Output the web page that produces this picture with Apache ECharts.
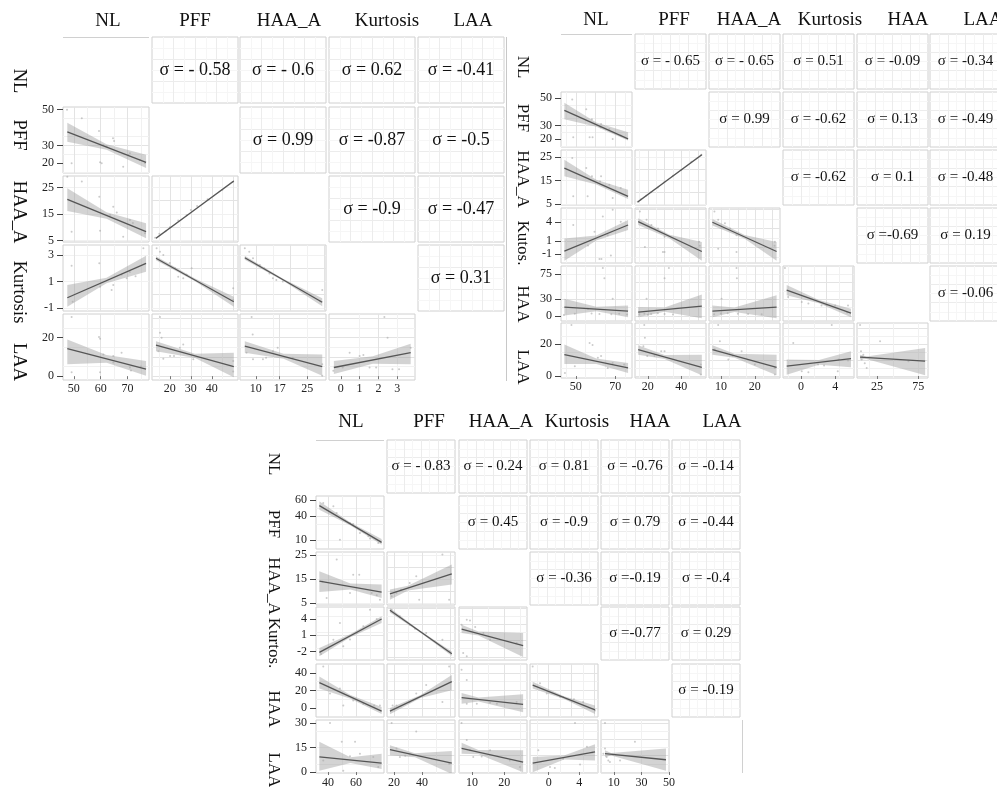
<!DOCTYPE html>
<html><head><meta charset="utf-8">
<script src="https://cdn.jsdelivr.net/npm/echarts@6/dist/echarts.min.js"></script>
<style>html,body{margin:0;padding:0;background:#fff}#c{width:997px;height:787px}</style>
</head><body><div id="c"></div>
<script>
// ---------------- DATA: matrix 1 (top-left) ----------------
const m1Vars = ['NL','PFF','HAA_A','Kurtosis','LAA'];
const m1RowNames = ['NL','PFF','HAA_A','Kurtosis','LAA'];
const m1XRange = [[46,78],[11.5,52.5],[5.4,30.5],[-0.63,3.95],null];
const m1YRange = [null,[14.5,51.5],[4.4,29.3],[-1.23,3.75],[-2,32.3]];
const m1XTicks = [[50,60,70],[20,30,40],[10,17,25],[0,1,2,3],null];
const m1YTicks = [null,[20,30,50],[5,15,25],[-1,1,3],[0,20]];
const m1Sigma = [[0,1,'σ = - 0.58'],[0,2,'σ = - 0.6'],[0,3,'σ = 0.62'],[0,4,'σ = -0.41'],
  [1,2,'σ = 0.99'],[1,3,'σ = -0.87'],[1,4,'σ = -0.5'],[2,3,'σ = -0.9'],[2,4,'σ = -0.47'],[3,4,'σ = 0.31']];
const m1Cells = [[1,0],[2,0],[2,1],[3,0],[3,1],[3,2],[4,0],[4,1],[4,2],[4,3]];
const m1Lines = [[47.6,37.5,76.9,20.5],[47.6,20.5,76.9,8.3],[13.4,5.8,50.5,27.4],[47.6,-0.23,76.9,2.37],
  [13.4,2.75,50.5,-0.53],[6.8,2.79,29.4,-0.57],[47.6,14.3,76.9,3.6],[13.4,16.1,50.5,5.0],[6.8,15.6,29.4,5.0],[-0.37,4.5,3.72,12.2]];
const m1Bands = [
  [[47.6,32.0,42.7],[62.2,27.6,30.6],[76.9,17.3,24.7]],
  [[47.6,16.1,24.7],[62.2,13.2,15.6],[76.9,5.8,11.5]],
  [[13.4,5.4,6.2],[32,16.4,16.8],[50.5,27.0,27.8]],
  [[47.6,-0.91,0.73],[62.2,0.87,1.27],[76.9,1.74,2.94]],
  [[13.4,2.6,2.9],[32,1.02,1.22],[50.5,-0.91,-0.15]],
  [[6.8,2.64,2.94],[18.1,1.03,1.19],[29.4,-0.87,-0.27]],
  [[47.6,6.2,19.0],[62.2,7.0,11.0],[76.9,0.2,7.9]],
  [[13.4,13.0,18.2],[32,9.4,11.7],[50.5,-0.6,12.2]],
  [[6.8,12.2,18.2],[18.1,9.0,11.6],[29.4,0.2,11.3]],
  [[-0.37,1.1,7.9],[1.7,6.4,10.3],[3.72,6.2,16.8]]];
const m1Points = [
  [[47.5,49.9],[53,45.2],[59.4,38.1],[64.6,34],[65,32.5],[61,30.2],[62.2,29.3],[70.9,25.6],[70.3,24.6],[49.2,20],[59.8,20.5],[60.4,20],[68.4,18],[74.6,21.8],[76.5,20.1]],
  [[47.6,29],[53,27.2],[59.5,21.5],[64.7,17.7],[63.5,14.6],[70.9,12.7],[49.2,8.3],[59.8,8.6],[68.4,6.4],[76.5,7.7],[66,15.5],[72,11.6]],
  [[13,6],[15,7.5],[18,8.5],[20,10],[24,12.5],[28,14.5],[30,16.5],[33,18],[38,20.5],[45,24],[50,27]],
  [[49.2,2.19],[59.5,2.37],[64.7,0.73],[64.1,0.36],[70.9,1.71],[75.9,3.5],[49.6,-0.53],[59.8,0.6],[67.8,1.5],[69.7,1.24],[73,1.4]],
  [[13.7,3.5],[15.3,3.25],[16.9,3.0],[22.5,2.0],[24,1.36],[26.4,1.24],[28,1.5],[30.4,2.0],[50.2,0.48],[50.2,-0.4],[20,2.4]],
  [[6.8,3.5],[8.1,3.25],[9.2,2.75],[11.2,2.24],[14,1.6],[15,1.24],[16,1.1],[17.9,1.0],[29.4,0.35],[28.8,-0.5],[12.5,2.0]],
  [[49.2,30.7],[59.4,20.4],[59.8,19.4],[61,11.3],[64.7,10.5],[64.7,7.1],[67.8,12.2],[70.9,4.5],[71.3,3],[49.2,2],[59.8,2],[75,5]],
  [[15.3,30.7],[15.3,22.5],[16.1,20],[14.5,13],[20.1,10.5],[24.8,14.8],[26.4,16.5],[31.2,8.8],[50.2,7.9],[50.2,2.4],[16.9,9],[22,10.5]],
  [[8.8,30.7],[9.1,21.6],[7.3,12.2],[9.2,8.8],[12.1,8.8],[15,13],[16.4,14.8],[20.8,9.6],[29.4,6.2],[29.4,0.2],[13,9.5]],
  [[2.32,30.7],[2.49,19.9],[0.47,12.2],[1.0,10.5],[1.53,4.5],[1.88,4.5],[2.75,3.6],[3.1,3.6],[-0.4,2.8],[0.1,4.5],[3.72,14.8],[1.2,11]]];

// ---------------- DATA: matrix 2 (top-right) ----------------
const m2Vars = ['NL','PFF','HAA_A','Kurtosis','HAA','LAA'];
const m2RowNames = ['NL','PFF','HAA_A','Kutos.','HAA','LAA'];
const m2XRange = [[42.5,78.5],[12.4,54.7],[6.5,27.4],[-2.1,6.2],[0.6,87],null];
const m2YRange = [null,[14.3,54.3],[4.6,28],[-2.45,6.26],[-9,89.6],[-1.25,33]];
const m2XTicks = [[50,70],[20,40],[10,20],[0,4],[25,75],null];
const m2YTicks = [null,[20,30,50],[5,15,25],[-1,1,4],[0,30,75],[0,20]];
const m2Sigma = [[0,1,'σ = - 0.65'],[0,2,'σ = - 0.65'],[0,3,'σ = 0.51'],[0,4,'σ = -0.09'],[0,5,'σ = -0.34'],
  [1,2,'σ = 0.99'],[1,3,'σ = -0.62'],[1,4,'σ = 0.13'],[1,5,'σ = -0.49'],
  [2,3,'σ = -0.62'],[2,4,'σ = 0.1'],[2,5,'σ = -0.48'],[3,4,'σ =-0.69'],[3,5,'σ = 0.19'],[4,5,'σ = -0.06']];
const m2Cells = [[1,0],[2,0],[2,1],[3,0],[3,1],[3,2],[4,0],[4,1],[4,2],[4,3],[5,0],[5,1],[5,2],[5,3],[5,4]];
const m2Lines = [[44.2,40.9,76.5,20.2],[44.2,20.3,76.5,8.3],[14.0,5.9,52.2,26.0],[44.2,-0.56,76.5,3.57],
  [14.3,4.11,52.2,-0.63],[7.5,4.0,26.4,-0.63],[44.2,16.0,76.5,8.7],[14.3,6.9,52.2,17.8],[7.5,8.7,26.4,16.0],
  [-1.67,46.3,5.85,5.1],[44.2,13.3,76.5,5.0],[14.3,16.4,52.2,5.4],[7.5,16.4,26.4,5.4],[-1.67,6.1,5.85,10.8],[4.3,11.7,83.5,9.2]];
const m2Bands = [
  [[44.2,34.5,46.4],[60.4,29.1,32.1],[76.5,19.1,25.0]],
  [[44.2,16.8,23.9],[60.4,13.3,15.3],[76.5,7.2,11.1]],
  [[14,5.5,6.3],[33,15.8,16.2],[52.2,25.6,26.4]],
  [[44.2,-2.08,1.42],[60.4,1.1,1.9],[76.5,2.76,4.37]],
  [[14.3,3.57,4.65],[33,1.44,2.04],[52.2,-2.08,0.89]],
  [[7.5,3.47,4.53],[17,1.4,2.0],[26.4,-2.08,0.89]],
  [[44.2,0.7,31.1],[60.4,8.4,16.4],[76.5,-2.2,18.9]],
  [[14.3,-2.2,16.0],[30,7.4,15.4],[52.2,-4.1,38.4]],
  [[7.5,-2.2,18.9],[14,7.2,15.2],[26.4,-4.1,37.2]],
  [[-1.67,37.2,55.4],[2.1,22.7,28.7],[5.85,-2.2,12.9]],
  [[44.2,7.5,19.6],[60.4,7.4,10.9],[76.5,1.9,8.1]],
  [[14.3,13.3,19.2],[30,10.6,13.0],[52.2,0.4,13.3]],
  [[7.5,13.3,19.2],[14,11.4,13.8],[26.4,0.4,13.3]],
  [[-1.67,0.8,10.2],[2.1,7.0,9.9],[5.85,5.4,15.4]],
  [[4.3,10.2,13.3],[12,10.6,12.2],[83.5,0.4,17.5]]];
const m2Points = [
  [[48.2,48.8],[55.3,41.7],[58.2,34.5],[62.8,31],[62.5,28.7],[67,27.4],[48.7,21.4],[57,21.4],[58.5,21.4],[68.7,20.2],[72.8,22.7]],
  [[48.2,24.6],[55.3,20.3],[58.2,16.8],[62.8,16.8],[62.3,14.6],[67,13.2],[48.7,8.3],[56,8.3],[68.7,7.6],[72.8,11.8]],
  [[14,6],[16,7],[19,8.5],[22,10],[26,12],[30,14.5],[35,17],[40,19.5],[46,23],[52,26]],
  [[68.7,6.0],[63.7,4.9],[72.8,4.1],[48.7,3.57],[59.5,2.5],[66.2,1.95],[56.2,0.34],[67.8,-1.27],[62,-1.8],[63,-1.8]],
  [[15.3,5.7],[19.3,4.4],[22.2,3.57],[26.1,3.0],[30,1.7],[18.3,0.08],[29,-0.7],[30,-0.7],[50.6,0.9],[51,0.3]],
  [[8.1,5.7],[9.2,4.4],[11.2,3.84],[12.7,3.0],[14.6,1.95],[9.2,-0.2],[14.6,-0.7],[25.9,0.9],[25.8,0.3]],
  [[63.7,85.9],[64.5,67.6],[68.7,31.1],[56.2,12.9],[49.5,3.8],[58,4.5],[62,3.5],[68,3],[72,4],[76,2.5],[44,1.9]],
  [[32.6,85.9],[30,67.6],[19.3,31.1],[15,3],[18,4],[22,3.5],[26,5],[30,3.5],[35,2.5],[20,2]],
  [[14.6,85.9],[14.7,67.6],[10.2,31.1],[8,3],[10,4.5],[12,5],[15,4],[18,3.5],[22,3]],
  [[-1.87,85.9],[-1.5,34.2],[0.09,25.1],[0.87,22.4],[2.4,18.9],[3,19.5],[4.0,18.9],[5.5,18.9],[5.4,6.4]],
  [[47.8,31.7],[57,20.6],[58.5,19.3],[49.5,6.1],[61.2,11.3],[62.8,12.4],[68.7,8.1],[66.2,5],[74.5,7.1],[44.5,1.9]],
  [[17.9,31.7],[18.3,23.8],[17.4,18.5],[28,15.4],[30,15.4],[19.7,12.4],[24,12.4],[51.6,7.1],[51.6,1.0]],
  [[9.2,31.7],[9.7,21.7],[8.2,16.5],[12.2,10.2],[16.1,15.4],[20,7.1],[25.9,5],[25.9,1.0],[13.5,12.4]],
  [[3.6,31.7],[-0.9,20.6],[0.09,2.9],[0.87,2.3],[2.0,7.1],[4.4,10.2],[5.5,9.6],[4.3,2.9],[2.7,6.5]],
  [[4.3,31.7],[5.5,15.4],[8.3,13.3],[6.3,10.2],[12.4,5],[28.7,21.7],[63.2,9.2],[7,12],[10,8]]];

// ---------------- DATA: matrix 3 (bottom) ----------------
const m3Vars = ['NL','PFF','HAA_A','Kurtosis','HAA','LAA'];
const m3RowNames = ['NL','PFF','HAA_A','Kurtos.','HAA','LAA'];
const m3XRange = [[31.4,80],[15,63.6],[6,27],[-2.45,6.45],[0.7,50],null];
const m3YRange = [null,[-1.25,65],[4.2,26.25],[-3.6,6.2],[-10,50],[-0.6,31.8]];
const m3XTicks = [[40,60],[20,40],[10,20],[0,4],[10,30,50],null];
const m3YTicks = [null,[10,40,60],[5,15,25],[-2,1,4],[0,20,40],[0,15,30]];
const m3Sigma = [[0,1,'σ = - 0.83'],[0,2,'σ = - 0.24'],[0,3,'σ = 0.81'],[0,4,'σ = -0.76'],[0,5,'σ = -0.14'],
  [1,2,'σ = 0.45'],[1,3,'σ = -0.9'],[1,4,'σ = 0.79'],[1,5,'σ = -0.44'],
  [2,3,'σ = -0.36'],[2,4,'σ =-0.19'],[2,5,'σ = -0.4'],[3,4,'σ =-0.77'],[3,5,'σ = 0.29'],[4,5,'σ = -0.19']];
const m3Cells = [[1,0],[2,0],[2,1],[3,0],[3,1],[3,2],[4,0],[4,1],[4,2],[4,3],[5,0],[5,1],[5,2],[5,3],[5,4]];
const m3Lines = [[33.8,52.9,78.3,7.1],[33.8,14.1,78.3,9.6],[17.1,8.8,61.3,17.1],[33.8,-2.18,78.3,3.98],
  [17.1,5.59,61.3,-2.44],[6.8,2.13,25.8,-0.96],[33.8,28.9,78.3,-3.4],[17.1,-3.4,61.3,30.0],[6.8,11.9,25.8,4.2],
  [-2.1,26.1,6.06,-1.9],[33.8,9.2,78.3,5.4],[17.1,13.7,61.3,5.4],[6.8,14.4,25.8,6.1],[-2.1,5.4,6.06,12.3],[3.6,11.2,47.8,7.5]];
const m3Bands = [
  [[33.8,47.9,58.4],[56,28.2,31.8],[78.3,4.1,11.25]],
  [[33.8,9.6,18.2],[56,10.7,13.1],[78.3,7.1,12.7]],
  [[17.1,6.4,10.6],[30,10.2,12.2],[61.3,12.7,21.0]],
  [[33.8,-2.92,-1.38],[56,0.6,1.2],[78.3,3.24,4.48]],
  [[17.1,5.2,6.0],[39,1.45,1.77],[61.3,-2.84,-2.04]],
  [[6.8,1.39,2.92],[12,0.95,1.65],[25.8,-3.05,1.39]],
  [[33.8,22.3,35.8],[56,10.8,14.8],[78.3,-6.5,1.2]],
  [[17.1,-7,0.2],[39,11.5,14.8],[61.3,20.3,37.6]],
  [[6.8,5.0,17.3],[12,7.6,12.0],[25.8,-4.6,15.7]],
  [[-2.1,22.3,30.0],[2,10.5,13.5],[6.06,-6.5,3.0]],
  [[33.8,0.8,18.5],[56,5.5,9.1],[78.3,1.9,11.2]],
  [[17.1,10.2,16.4],[35,9.1,11.5],[61.3,-1.2,12.9]],
  [[6.8,11.2,17.9],[12,10.8,13.4],[25.8,-0.2,13.3]],
  [[-2.1,-0.2,9.2],[2,7.7,10.1],[6.06,7.1,17.0]],
  [[3.6,9.2,13.3],[8,10.1,11.7],[47.8,0.8,14.4]]];
const m3Points = [
  [[36.6,56.25],[43.8,52.1],[46.2,43.8],[55.7,31.3],[58,30],[48.5,10.4],[62.8,18.75],[68.8,14.6],[75.9,6.25],[70,12]],
  [[46.2,23.1],[58,16.8],[62.3,16.8],[39,7.1],[55.7,9.2],[71.2,9.2],[74.8,8.3],[77.1,6.4],[36,14]],
  [[18.3,7.8],[21.8,9.2],[31.2,13.4],[35.9,16.2],[54.6,25.2],[59.4,6.4],[38,6.4],[25,10.5]],
  [[35,-2.5],[43.8,0.15],[48.5,3.24],[60.5,1.4],[65.2,2.63],[70,5.7],[74.8,4.0],[55.7,0.2],[50.9,-1.07]],
  [[18.3,5.7],[24.2,4.48],[31.2,2.93],[35,2.2],[54.6,0.15],[59.4,-1.99],[43,1.4]],
  [[6.8,2.93],[8.4,3.85],[9.4,3.7],[7.3,-2.3],[8.4,-2.9],[15.6,0.15],[13.5,1.4],[23.8,-0.46],[11,2.5]],
  [[36.6,47.3],[48.5,22.3],[50.9,3.0],[58,8.8],[65.2,5.0],[73,3],[77.1,3.0],[41.4,16.5]],
  [[19,3],[21.8,3.0],[31.2,7.0],[35.9,16.5],[43,26.1],[59.4,47.3],[54.6,7.0]],
  [[6.8,43.4],[8.4,31.9],[8.4,5.0],[11.5,5.0],[17.7,5.0],[15.6,6.2],[23.8,7.0]],
  [[-2.1,47.3],[-1.14,28.1],[-0.26,16.5],[1.5,13],[1.9,12.7],[3.3,10],[4.5,7.0],[6.06,-2.7]],
  [[41.4,29.9],[49.8,18.5],[59.3,18.5],[62.8,11.2],[55.7,9.6],[36.6,7.1],[72.3,9.2],[75.9,3],[50.9,0.8]],
  [[18.3,29.9],[21.8,14.4],[24.2,9.2],[31.2,11.2],[35.9,24.7],[59.4,5],[28,10]],
  [[6.8,29.9],[8.4,19.5],[9.4,13.3],[10.4,9.2],[15.6,13.3],[21.7,7.1],[24.8,3],[13,9.5]],
  [[3.44,29.9],[-1.36,13.3],[0.17,3],[0.8,2.5],[1.9,8.1],[4.1,4.6],[5.0,15.4],[5.7,12]],
  [[3.6,14.4],[2.4,11.2],[4.8,9.2],[6.0,7.1],[7.2,6.1],[3.6,29.9],[25.3,18.5],[14.5,7.1]]];

// ---------------- LAYOUT ----------------
const m1Layout = {colLeft:[63,152,240,329,418], colW:86, rowTop:[37,107,176,245,314], rowH:66,
  headX:[108,195,289,387,473], headY:21, rowLabX:19, rowLabY:[81,135,212,292,362], rowFont:18.5, sigmaFont:18, xLabMargin:3};
const m2Layout = {colLeft:[561,635,709,783,857,930], colW:71, rowTop:[34,92,150,208,266,323], rowH:55,
  headX:[596,674,749,830,908,983], headY:20, rowLabX:522, rowLabY:[67,118,179,243,304,367], rowFont:17, sigmaFont:15, xLabMargin:3};
const m3Layout = {colLeft:[316,387,459,530,601,672], colW:68, rowTop:[440,496,552,607,664,720], rowH:53,
  headX:[351,429,501,577,650,722], headY:422, rowLabX:273, rowLabY:[464,524,586,643,709,770], rowFont:17, sigmaFont:15, xLabMargin:4};

const SERIF = "'Liberation Serif','DejaVu Serif',serif";
const grids = [], xAxes = [], yAxes = [], series = [], graphics = [];

function textStyle(t, size) {
  return {text:t, font:size + 'px ' + SERIF, fill:'#111', align:'center', verticalAlign:'middle', textAlign:'center', textVerticalAlign:'middle'};
}

function addMatrix(M) {
  const L = M.layout, n = M.vars.length;
  M.vars.forEach((v, i) => graphics.push({type:'text', x:L.headX[i], y:L.headY, z:50, style:textStyle(v, 19)}));
  M.rowNames.forEach((v, i) => graphics.push({type:'text', x:L.rowLabX, y:L.rowLabY[i], rotation:-Math.PI/2, z:50, style:textStyle(v, L.rowFont)}));
  M.cells.forEach(([r, c], k) => {
    const gi = grids.length;
    grids.push({left:L.colLeft[c], top:L.rowTop[r], width:L.colW, height:L.rowH, show:true,
      borderColor:'#d0d0d0', borderWidth:1, backgroundColor:'#fff', containLabel:false, outerBoundsMode:'none'});
    const bottom = r === n - 1, left = c === 0;
    const xa = {gridIndex:gi, type:'value', min:M.xRange[c][0], max:M.xRange[c][1], splitNumber:3,
      axisLine:{show:false},
      axisTick:{show:bottom, length:3, lineStyle:{color:'#777'}},
      axisLabel:{show:bottom, margin:L.xLabMargin, fontFamily:SERIF, fontSize:12, color:'#222', hideOverlap:false},
      splitLine:{show:true, showMinLine:false, showMaxLine:false, lineStyle:{color:'#e3e3e3', width:1}},
      minorTick:{show:false, splitNumber:2}, minorSplitLine:{show:true, lineStyle:{color:'#f1f1f1', width:1}}};
    if (bottom) { xa.axisLabel.customValues = M.xTicks[c]; xa.axisTick.customValues = M.xTicks[c]; }
    const ya = {gridIndex:gi, type:'value', min:M.yRange[r][0], max:M.yRange[r][1], splitNumber:3,
      axisLine:{show:false},
      axisTick:{show:left, length:6, lineStyle:{color:'#444'}},
      axisLabel:{show:left, margin:9, fontFamily:SERIF, fontSize:12, color:'#222', hideOverlap:false},
      splitLine:{show:true, showMinLine:false, showMaxLine:false, lineStyle:{color:'#e3e3e3', width:1}},
      minorTick:{show:false, splitNumber:2}, minorSplitLine:{show:true, lineStyle:{color:'#f1f1f1', width:1}}};
    if (left) { ya.axisLabel.customValues = M.yTicks[r]; ya.axisTick.customValues = M.yTicks[r]; }
    xAxes.push(xa); yAxes.push(ya);
    const band = M.bands[k], ln = M.lines[k];
    series.push({type:'custom', xAxisIndex:gi, yAxisIndex:gi, clip:true, silent:true, z:2,
      data:band,
      renderItem:(params, api) => {
        if (params.dataIndex !== 0) return null;
        const up = band.map(b => api.coord([b[0], b[2]]));
        const lo = band.slice().reverse().map(b => api.coord([b[0], b[1]]));
        return {type:'polygon', shape:{points:up.concat(lo)}, style:{fill:'rgba(150,150,150,0.42)'}};
      }});
    series.push({type:'scatter', xAxisIndex:gi, yAxisIndex:gi, data:M.points[k], symbolSize:2, z:3, silent:true,
      itemStyle:{color:'#a8a8a8', opacity:0.6}});
    series.push({type:'line', xAxisIndex:gi, yAxisIndex:gi, data:[[ln[0], ln[1]], [ln[2], ln[3]]], z:4, silent:true,
      showSymbol:false, symbol:'none', lineStyle:{color:'#555', width:1.3}});
  });
  M.sigma.forEach(([r, c, txt]) => {
    const gi = grids.length;
    grids.push({left:L.colLeft[c], top:L.rowTop[r], width:L.colW, height:L.rowH, show:true,
      borderColor:'#d0d0d0', borderWidth:1, backgroundColor:'#fff', containLabel:false, outerBoundsMode:'none'});
    xAxes.push({gridIndex:gi, type:'value', min:0, max:4, interval:1, axisLine:{show:false}, axisTick:{show:false}, axisLabel:{show:false},
      splitLine:{show:true, showMinLine:false, showMaxLine:false, lineStyle:{color:'#ececec'}},
      minorTick:{show:false, splitNumber:2}, minorSplitLine:{show:true, lineStyle:{color:'#f6f6f6'}}});
    yAxes.push({gridIndex:gi, type:'value', min:0, max:3, interval:1, axisLine:{show:false}, axisTick:{show:false}, axisLabel:{show:false},
      splitLine:{show:true, showMinLine:false, showMaxLine:false, lineStyle:{color:'#ececec'}},
      minorTick:{show:false, splitNumber:2}, minorSplitLine:{show:true, lineStyle:{color:'#f6f6f6'}}});
    graphics.push({type:'text', x:L.colLeft[c] + L.colW / 2, y:L.rowTop[r] + L.rowH / 2, z:50, style:textStyle(txt, L.sigmaFont)});
  });
  graphics.push({type:'line', z:40, shape:{x1:L.colLeft[0], y1:L.rowTop[0] + 0.5, x2:L.colLeft[0] + L.colW, y2:L.rowTop[0] + 0.5},
    style:{stroke:'#d0d0d0', lineWidth:1}});
}

addMatrix({vars:m1Vars, rowNames:m1RowNames, xRange:m1XRange, yRange:m1YRange, xTicks:m1XTicks, yTicks:m1YTicks,
  sigma:m1Sigma, cells:m1Cells, lines:m1Lines, bands:m1Bands, points:m1Points, layout:m1Layout});
addMatrix({vars:m2Vars, rowNames:m2RowNames, xRange:m2XRange, yRange:m2YRange, xTicks:m2XTicks, yTicks:m2YTicks,
  sigma:m2Sigma, cells:m2Cells, lines:m2Lines, bands:m2Bands, points:m2Points, layout:m2Layout});
addMatrix({vars:m3Vars, rowNames:m3RowNames, xRange:m3XRange, yRange:m3YRange, xTicks:m3XTicks, yTicks:m3YTicks,
  sigma:m3Sigma, cells:m3Cells, lines:m3Lines, bands:m3Bands, points:m3Points, layout:m3Layout});

graphics.push({type:'line', z:40, shape:{x1:506.5, y1:37, x2:506.5, y2:381}, style:{stroke:'#c8c8c8', lineWidth:1}});
graphics.push({type:'line', z:40, shape:{x1:742.5, y1:720, x2:742.5, y2:773}, style:{stroke:'#d0d0d0', lineWidth:1}});

const chart = echarts.init(document.getElementById('c'), null, {renderer:'canvas'});
chart.setOption({animation:false, backgroundColor:'#fff', grid:grids, xAxis:xAxes, yAxis:yAxes, series:series, graphic:graphics});
</script></body></html>
